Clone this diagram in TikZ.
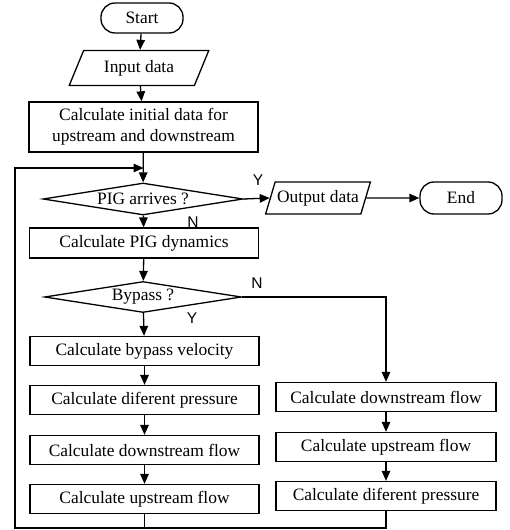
\documentclass[tikz,border=0pt]{standalone}
\usepackage{fontspec}
\setmainfont{Liberation Serif}
\newfontfamily\lblfont{Liberation Sans}
\usetikzlibrary{shapes.geometric,arrows.meta}
\begin{document}
\begin{tikzpicture}[x=1pt,y=-1pt,
  every node/.style={font=\fontsize{17.4}{21}\selectfont, inner sep=0pt},
  proc/.style={draw, line width=1.3pt, minimum height=29pt},
  term/.style={draw, line width=1.3pt, rounded corners=14pt, minimum width=82pt, minimum height=30pt},
  io/.style={draw, line width=1.3pt, trapezium, trapezium left angle=60, trapezium right angle=120, trapezium stretches=true},
  dec/.style={draw, line width=1.3pt, diamond, aspect=6},
  lbl/.style={font=\lblfont\fontsize{15.5}{15.5}\selectfont},
  arr/.style={line width=1.3pt, -{Triangle[length=10pt,width=8.5pt]}},
  ln/.style={line width=1.3pt}
]
\useasboundingbox (0,0) rectangle (509,530);

\node[term] (start) at (142,18) {Start};
\node[io, minimum width=140pt, minimum height=35pt] (input) at (139,68) {Input data};
\node[proc, minimum width=229pt, minimum height=50pt, align=center] (init) at (143.5,127) {Calculate initial data for\\upstream and downstream};
\node[dec, minimum width=200pt, minimum height=32pt] (pig) at (143,199) {PIG arrives ?};
\node[io, minimum width=105pt, minimum height=32pt] (out) at (318,198) {Output data};
\node[term, minimum height=32pt] (end) at (461,198) {End};
\node[proc, minimum width=229pt, minimum height=30pt] (dyn) at (144,243) {Calculate PIG dynamics};
\node[dec, minimum width=197pt, minimum height=31pt] (byp) at (143,297) {Bypass ?};

\node[proc, minimum width=229pt] (bv) at (144.5,351) {Calculate bypass velocity};
\node[proc, minimum width=229pt] (ldp) at (144.5,400) {Calculate diferent pressure};
\node[proc, minimum width=229pt] (lds) at (144.5,450) {Calculate downstream flow};
\node[proc, minimum width=229pt] (lus) at (144.5,499) {Calculate upstream flow};

\node[proc, minimum width=220pt] (rds) at (386,397) {Calculate downstream flow};
\node[proc, minimum width=220pt] (rus) at (386,447) {Calculate upstream flow};
\node[proc, minimum width=220pt] (rdp) at (386,496) {Calculate diferent pressure};

\node[lbl] (y1) at (258,180) {Y};
\node[lbl] (n1) at (193,222) {N};
\node[lbl] (n2) at (257,283) {N};
\node[lbl] (y2) at (192,318) {Y};

\coordinate (bl) at (15,528);
\coordinate (lt) at (15,168);

\draw[arr] (start) -- (input);
\draw[arr] (input) -- (init);
\draw[arr] (init) -- (pig);
\draw[arr] (pig.east) -- (out.west);
\draw[arr] (out.east) -- (end.west);
\draw[arr] (pig) -- (dyn);
\draw[arr] (dyn) -- (byp);
\draw[arr] (byp) -- (bv);
\draw[arr] (byp.east) -| (rds.north);
\draw[arr] (bv) -- (ldp);
\draw[arr] (ldp) -- (lds);
\draw[arr] (lds) -- (lus);
\draw[arr] (rds) -- (rus);
\draw[arr] (rus) -- (rdp);
\draw[ln] (lus.south) -- (lus.south |- bl);
\draw[arr] (rdp.south) -- (rdp.south |- bl) -- (bl) -- (lt) -- (init.south |- lt);
\end{tikzpicture}
\end{document}
